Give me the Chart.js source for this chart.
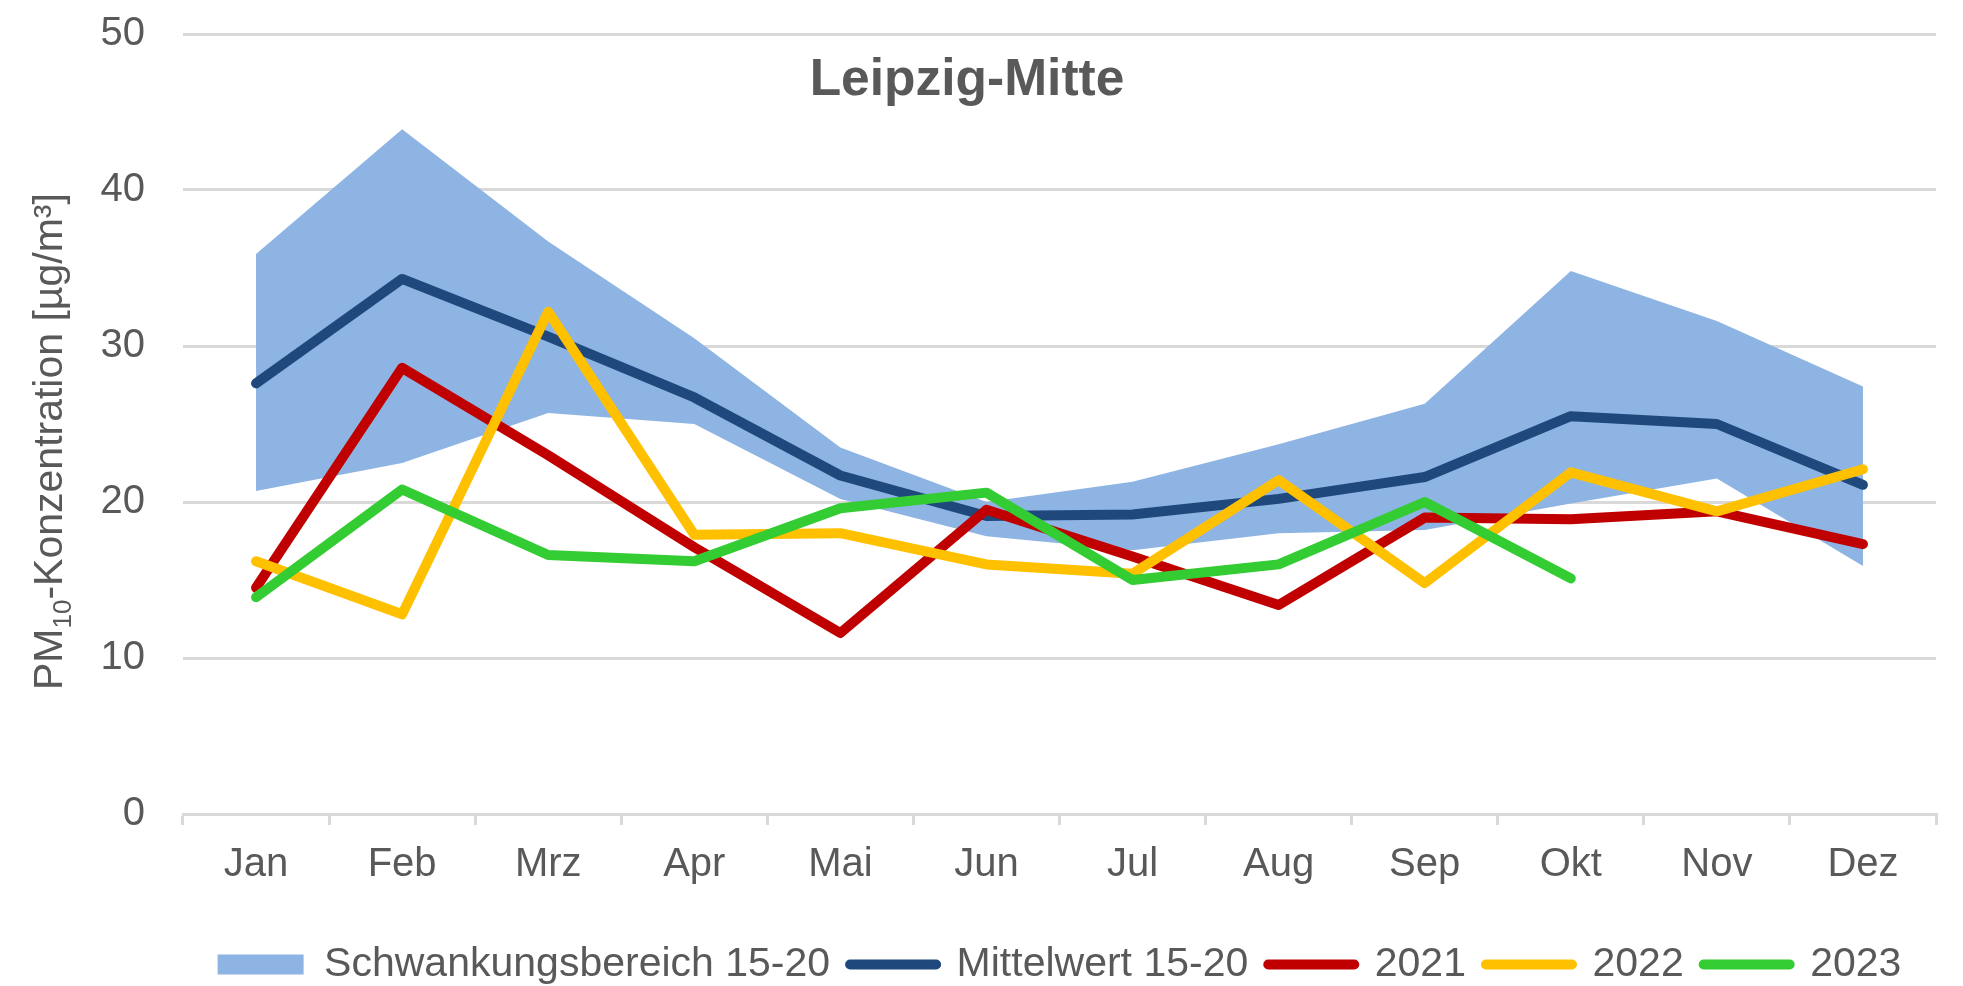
<!DOCTYPE html>
<html>
<head>
<meta charset="utf-8">
<script src="https://cdn.jsdelivr.net/npm/chart.js@4.4.1/dist/chart.umd.min.js"></script>
<style>
  html, body { margin: 0; padding: 0; background: #fff; }
  #wrap { width: 1963px; height: 986px; position: relative; }
</style>
</head>
<body>
<div id="wrap"><canvas id="chart"></canvas></div>
<script>
const months = ["Jan", "Feb", "Mrz", "Apr", "Mai", "Jun", "Jul", "Aug", "Sep", "Okt", "Nov", "Dez"];
const bandHigh = [35.9, 43.9, 36.7, 30.5, 23.5, 20.0, 21.3, 23.7, 26.3, 34.8, 31.6, 27.4];
const bandLow = [20.7, 22.5, 25.7, 25.0, 20.2, 17.8, 16.9, 18.0, 18.2, 19.9, 21.5, 15.9];
const mean1520 = [27.6, 34.3, 30.6, 26.7, 21.7, 19.1, 19.2, 20.2, 21.6, 25.5, 25.0, 21.1];
const y2021 = [14.5, 28.6, 23.0, 17.1, 11.6, 19.5, 16.5, 13.4, 19.0, 18.9, 19.4, 17.3];
const y2022 = [16.2, 12.8, 32.2, 17.9, 18.0, 16.0, 15.4, 21.4, 14.8, 21.9, 19.4, 22.1];
const y2023 = [13.9, 20.8, 16.6, 16.2, 19.6, 20.6, 15.0, 16.0, 20.0, 15.1, null, null];
const yMin = 0, yMax = 50, yStep = 10;

const FONT = '"Liberation Sans", Arial, sans-serif';
const GREY = "#595959";
const GRID = "#d9d9d9";
Chart.defaults.font.family = FONT;
Chart.defaults.color = GREY;

// title sits inside the plot area, between the 50 and 40 lines
const stationTitle = {
  id: "stationTitle",
  afterDraw(chart) {
    const ctx = chart.ctx;
    ctx.save();
    ctx.font = "bold 51.5px " + FONT;
    ctx.fillStyle = GREY;
    ctx.textAlign = "center";
    ctx.textBaseline = "alphabetic";
    ctx.fillText("Leipzig-Mitte", 967, 95);
    ctx.restore();
  }
};

// y axis title with a real subscript
const yTitle = {
  id: "yTitle",
  afterDraw(chart) {
    const ctx = chart.ctx;
    ctx.save();
    ctx.translate(62, 690);
    ctx.rotate(-Math.PI / 2);
    ctx.fillStyle = GREY;
    ctx.textAlign = "left";
    ctx.textBaseline = "alphabetic";
    let x = 0;
    ctx.font = "41px " + FONT;
    ctx.fillText("PM", x, 0);
    x += ctx.measureText("PM").width;
    ctx.font = "26px " + FONT;
    ctx.fillText("10", x, 9);
    x += ctx.measureText("10").width;
    ctx.font = "41px " + FONT;
    ctx.fillText("-Konzentration [µg/m³]", x, 0);
    ctx.restore();
  }
};

const lineDs = (label, data, color, order) => ({
  label, data, order,
  borderColor: color,
  backgroundColor: color,
  borderWidth: 10,
  borderCapStyle: "round",
  borderJoinStyle: "round",
  pointRadius: 0,
  pointHoverRadius: 0,
  tension: 0,
  fill: false,
  spanGaps: false
});

new Chart(document.getElementById("chart"), {
  type: "line",
  data: {
    labels: months,
    datasets: [
      {
        label: "Schwankungsbereich 15-20",
        data: bandHigh,
        order: 10,
        borderWidth: 0,
        borderColor: "#8eb4e3",
        backgroundColor: "#8eb4e3",
        pointRadius: 0,
        tension: 0,
        fill: "+1"
      },
      {
        label: "",
        data: bandLow,
        order: 10,
        borderWidth: 0,
        borderColor: "#8eb4e3",
        backgroundColor: "#8eb4e3",
        pointRadius: 0,
        tension: 0,
        fill: false
      },
      lineDs("Mittelwert 15-20", mean1520, "#1f497d", 4),
      lineDs("2021", y2021, "#c00000", 3),
      lineDs("2022", y2022, "#ffc000", 2),
      lineDs("2023", y2023, "#33cc33", 1)
    ]
  },
  options: {
    responsive: true,
    maintainAspectRatio: false,
    animation: false,
    layout: { padding: { left: 0, right: 27, top: 34, bottom: -9 } },
    plugins: {
      title: { display: false },
      tooltip: { enabled: false },
      legend: {
        position: "bottom",
        fullSize: false,
        labels: {
          color: GREY,
          font: { size: 41 },
          usePointStyle: true,
          pointStyleWidth: 86,
          boxHeight: 20,
          padding: 20,
          filter: item => item.text !== "",
          sort: (a, b) => a.datasetIndex - b.datasetIndex,
          generateLabels(chart) {
            const items = Chart.defaults.plugins.legend.labels.generateLabels(chart);
            items.forEach(it => {
              const ds = chart.data.datasets[it.datasetIndex];
              if (ds.fill === "+1") {
                it.pointStyle = "rect";
                it.lineWidth = 0;
                it.fillStyle = ds.backgroundColor;
              } else {
                it.pointStyle = "line";
                it.lineWidth = 10;
                it.lineCap = "round";
              }
            });
            return items;
          }
        }
      }
    },
    scales: {
      x: {
        offset: true,
        afterFit: s => { s.height = 110; },
        grid: {
          display: true,
          offset: true,
          drawOnChartArea: false,
          drawTicks: true,
          tickLength: 11,
          color: GRID,
          lineWidth: 3
        },
        border: { display: true, color: GRID, width: 3 },
        ticks: { color: GREY, font: { size: 40 }, padding: 16, maxRotation: 0 }
      },
      y: {
        min: yMin,
        max: yMax,
        afterFit: s => { s.width = 183; s.paddingTop = 0; s.paddingBottom = 0; },
        grid: { color: GRID, lineWidth: 3, drawTicks: false },
        border: { display: false },
        ticks: { stepSize: yStep, color: GREY, font: { size: 40 }, padding: 38 }
      }
    }
  },
  plugins: [stationTitle, yTitle]
});
</script>
</body>
</html>
